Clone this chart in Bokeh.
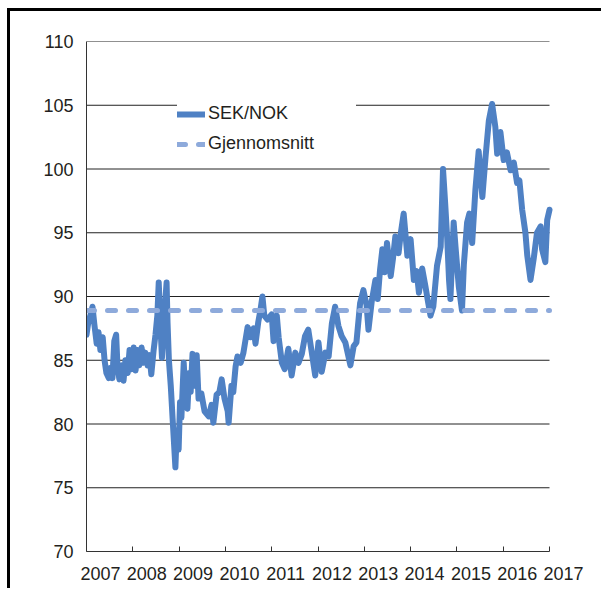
from bokeh.plotting import figure
from bokeh.models import (FixedTicker, LinearAxis, Range1d, Legend, LegendItem,
                          CustomJSTickFormatter)
from bokeh.embed import file_html
from bokeh.resources import INLINE

# ---- data (decimal year, SEK/NOK index) ----
t = [
    2007.00, 2007.04, 2007.09, 2007.13, 2007.17, 2007.22, 2007.26, 2007.30, 2007.35, 2007.39,
    2007.43, 2007.48, 2007.52, 2007.56, 2007.60, 2007.64, 2007.67, 2007.71, 2007.76, 2007.80,
    2007.84, 2007.89, 2007.93, 2007.97, 2008.02, 2008.06, 2008.10, 2008.14, 2008.19, 2008.23,
    2008.27, 2008.32, 2008.36, 2008.40, 2008.45, 2008.49, 2008.53, 2008.56, 2008.60, 2008.63,
    2008.67, 2008.73, 2008.75, 2008.78, 2008.82, 2008.86, 2008.89, 2008.92, 2008.95, 2008.99,
    2009.02, 2009.05, 2009.10, 2009.14, 2009.18, 2009.22, 2009.25, 2009.29, 2009.33, 2009.38,
    2009.42, 2009.48, 2009.55, 2009.64, 2009.70, 2009.74, 2009.81, 2009.87, 2009.92, 2009.98,
    2010.05, 2010.07, 2010.13, 2010.17, 2010.22, 2010.26, 2010.33, 2010.39, 2010.43, 2010.48,
    2010.54, 2010.61, 2010.65, 2010.71, 2010.76, 2010.80, 2010.84, 2010.91, 2011.00, 2011.04,
    2011.11, 2011.15, 2011.22, 2011.28, 2011.36, 2011.43, 2011.51, 2011.58, 2011.65, 2011.72,
    2011.79, 2011.87, 2011.94, 2012.01, 2012.08, 2012.16, 2012.23, 2012.30, 2012.37, 2012.44,
    2012.51, 2012.59, 2012.70, 2012.77, 2012.83, 2012.91, 2012.98, 2013.05, 2013.09, 2013.16,
    2013.24, 2013.29, 2013.34, 2013.39, 2013.44, 2013.49, 2013.57, 2013.62, 2013.67, 2013.74,
    2013.79, 2013.85, 2013.93, 2014.00, 2014.07, 2014.13, 2014.18, 2014.25, 2014.32, 2014.38,
    2014.43, 2014.49, 2014.57, 2014.65, 2014.70, 2014.75, 2014.79, 2014.83, 2014.86, 2014.93,
    2014.97, 2015.04, 2015.11, 2015.15, 2015.22, 2015.27, 2015.33, 2015.40, 2015.47, 2015.55,
    2015.62, 2015.69, 2015.76, 2015.83, 2015.87, 2015.94, 2016.01, 2016.08, 2016.16, 2016.23,
    2016.30, 2016.35, 2016.41, 2016.48, 2016.52, 2016.59, 2016.66, 2016.73, 2016.81, 2016.84,
    2016.91, 2016.95, 2017.00,
]
sek_nok = [
    87.0, 88.0, 88.6, 89.2, 87.8, 86.3, 87.2, 85.8, 86.8, 85.0,
    84.0, 83.6, 84.4, 83.6, 86.5, 87.0, 84.5, 83.5, 84.6, 83.4,
    85.0, 84.0, 85.8, 84.3, 86.0, 84.2, 85.8, 84.6, 86.0, 84.8,
    85.6, 84.6, 85.4, 83.9, 85.8, 87.0, 88.5, 91.1, 87.5, 85.2,
    88.0, 91.1, 88.0, 85.0, 83.0, 80.4, 78.5, 76.6, 79.5, 78.0,
    81.7, 80.5, 84.8, 82.0, 81.2, 84.0, 82.5, 85.5, 83.0, 85.4,
    82.0, 82.4, 81.0, 80.6, 81.5, 80.1, 82.3, 82.5, 83.5, 82.0,
    81.0, 80.1, 83.0, 82.5, 84.5, 85.3, 84.8, 85.6, 86.5, 87.6,
    86.8, 87.5, 86.3, 88.0, 89.0, 90.0, 88.5, 88.2, 88.6, 86.5,
    88.5, 86.8, 84.8, 84.3, 85.9, 83.8, 85.6, 84.8, 85.5, 86.9,
    87.4, 85.5, 83.8, 86.4, 84.1, 85.6, 85.3, 87.9, 89.2, 87.7,
    86.9, 86.4, 84.6, 86.1, 86.4, 89.5, 90.5, 89.3, 87.4, 89.6,
    91.3, 89.8, 92.1, 93.7, 91.9, 94.2, 91.6, 93.0, 94.7, 93.4,
    95.0, 96.5, 93.2, 94.5, 91.3, 92.0, 90.3, 92.2, 90.8, 89.5,
    88.5, 89.2, 92.4, 93.9, 100.0, 97.1, 94.6, 91.3, 89.8, 95.8,
    93.9, 90.8, 88.9, 92.5, 95.8, 96.5, 94.2, 98.4, 101.4, 97.8,
    101.0, 103.8, 105.1, 103.3, 101.2, 102.9, 100.7, 101.3, 99.9, 100.5,
    98.9, 99.1, 96.8, 95.0, 93.2, 91.3, 93.0, 95.0, 95.5, 93.7,
    92.7, 96.0, 96.8,
]
average = 88.9
years = list(range(2007, 2018))
y_ticks = [70, 75, 80, 85, 90, 95, 100, 105, 110]
grid_ticks = [75, 80, 85, 90, 95, 100, 105, 110]

FONT = "Liberation Sans"
TXT = "#231f20"
MAIN = "#4f81c4"
AVG = "#8eaadb"

PX_PER_YEAR = 46.3
X_START, X_LAST = years[0], years[-1]
X_END = X_LAST + 50 / PX_PER_YEAR          # frame runs on past 2017 so the last label fits
LAB_SHIFT = 14 / PX_PER_YEAR              # year labels sit a bit right of their ticks

frame_css = ("linear-gradient(#000000, #000000) 7px 8px / 3px 100% no-repeat, "
             "linear-gradient(#000000, #000000) 7px 8px / 100% 3px no-repeat, #ffffff")

p = figure(width=601, height=588, x_range=Range1d(X_START, X_END), y_range=Range1d(70, 110),
           output_backend="svg", toolbar_location=None, x_axis_type=None,
           min_border_left=86, min_border_right=2, min_border_top=41, min_border_bottom=37,
           styles={"background": frame_css})
p.extra_x_ranges = {"labels": Range1d(X_START - LAB_SHIFT, X_END - LAB_SHIFT)}
p.outline_line_color = None
p.background_fill_color = "white"
p.border_fill_color = None
p.xgrid.grid_line_color = None
p.ygrid.grid_line_color = None

# y axis
ya = p.yaxis[0]
ya.ticker = FixedTicker(ticks=y_ticks)
ya.major_tick_in = 0
ya.major_tick_out = 0
ya.minor_tick_line_color = None
ya.axis_line_color = "#333333"
ya.major_label_standoff = 13
ya.major_label_text_font = FONT
ya.major_label_text_font_size = "18px"
ya.major_label_text_color = TXT

# horizontal grid lines between 2007 and 2017
p.segment(x0=X_START, x1=X_LAST, y0=grid_ticks, y1=grid_ticks, line_color="#222222", line_width=1)

# x axis: tick marks only
xa = LinearAxis(ticker=FixedTicker(ticks=years), bounds=(X_START, X_LAST))
xa.major_tick_in = 5
xa.major_tick_out = 0
xa.minor_tick_line_color = None
xa.axis_line_color = "#333333"
xa.major_tick_line_color = "#333333"
xa.major_label_text_font_size = "0px"
xa.major_label_standoff = 0
xa.major_label_text_alpha = 0
p.add_layout(xa, "below")

# x labels
xl = LinearAxis(x_range_name="labels", ticker=FixedTicker(ticks=years),
                formatter=CustomJSTickFormatter(code="return Math.round(tick).toString();"))
xl.axis_line_color = None
xl.major_tick_line_color = None
xl.minor_tick_line_color = None
xl.major_label_standoff = 9
xl.major_label_text_font = FONT
xl.major_label_text_font_size = "18px"
xl.major_label_text_color = TXT
p.add_layout(xl, "below")

r_main = p.line(t, sek_nok, line_color=MAIN, line_width=6, line_join="round", line_cap="round")
r_avg = p.line([t[0], t[-1]], [average, average], line_color=AVG, line_width=5,
               line_dash="8 13", line_cap="round")

legend = Legend(items=[LegendItem(label="SEK/NOK", renderers=[r_main]),
                       LegendItem(label="Gjennomsnitt", renderers=[r_avg])],
                location=(91, 397), orientation="vertical",
                border_line_color=None, background_fill_color="white", background_fill_alpha=1.0,
                label_text_font=FONT, label_text_font_size="18px", label_text_color=TXT,
                glyph_width=28, glyph_height=20, label_standoff=3, label_height=20,
                spacing=9, padding=10, margin=0, label_width=148)
p.add_layout(legend, "center")

open("out.html", "w").write(file_html(p, INLINE))
